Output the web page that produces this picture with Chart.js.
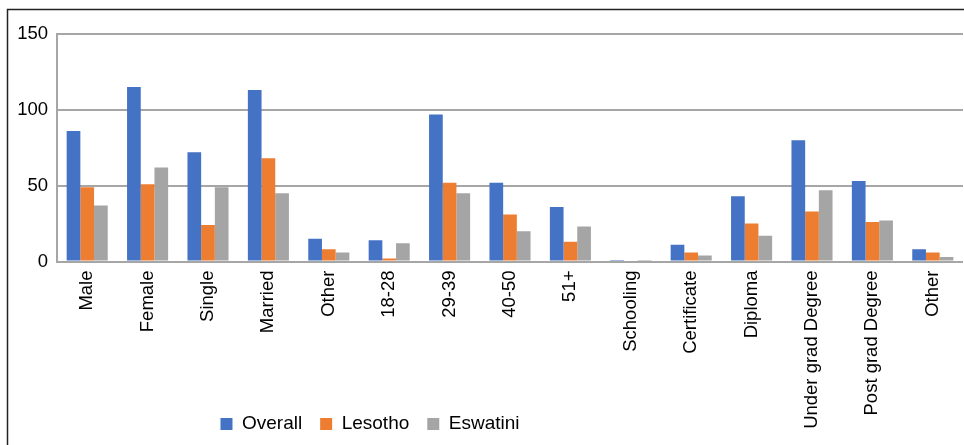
<!DOCTYPE html>
<html>
<head>
<meta charset="utf-8">
<script src="https://cdn.jsdelivr.net/npm/chart.js@4.4.1/dist/chart.umd.min.js"></script>
<style>
  html, body { margin: 0; padding: 0; background: #ffffff; }
  #wrap { position: relative; width: 964px; height: 445px; }
</style>
</head>
<body>
<div id="wrap"><canvas id="c" width="964" height="445"></canvas></div>
<script>
const categories = ["Male", "Female", "Single", "Married", "Other", "18-28", "29-39", "40-50", "51+", "Schooling", "Certificate", "Diploma", "Under grad Degree", "Post grad Degree", "Other"];
const overall  = [86, 115, 72, 113, 15, 14, 97, 52, 36, 1, 11, 43, 80, 53, 8];
const lesotho  = [49, 51, 24, 68, 8, 2, 52, 31, 13, 0, 6, 25, 33, 26, 6];
const eswatini = [37, 62, 49, 45, 6, 12, 45, 20, 23, 1, 4, 17, 47, 27, 3];
const seriesNames = ["Overall", "Lesotho", "Eswatini"];
const yTicks = [0, 50, 100, 150];

const FONT = "'Liberation Sans', Arial, sans-serif";

const framePlugin = {
  id: 'frame',
  afterLayout(chart) {
    // let rotated category labels run past the axis box (over the legend row), as in the reference
    if (chart.scales.x) chart.scales.x.bottom = chart.height;
  },
  beforeDraw(chart) {
    const ctx = chart.ctx;
    ctx.save();
    ctx.fillStyle = '#ffffff';
    ctx.fillRect(0, 0, chart.width, chart.height);
    ctx.strokeStyle = '#222222';
    ctx.lineWidth = 1.5;
    ctx.beginPath();
    ctx.moveTo(7.5, chart.height + 5);
    ctx.lineTo(7.5, 9.5);
    ctx.lineTo(chart.width + 5, 9.5);
    ctx.stroke();
    ctx.restore();
    if (chart.legend) {
      chart.legend.left = 0;
      chart.legend.right = 740;
    }
  }
};

new Chart(document.getElementById('c'), {
  type: 'bar',
  data: {
    labels: categories,
    datasets: [
      { label: seriesNames[0], data: overall,  backgroundColor: '#4472C4', categoryPercentage: 0.68, barPercentage: 1.0 },
      { label: seriesNames[1], data: lesotho,  backgroundColor: '#ED7D31', categoryPercentage: 0.68, barPercentage: 1.0 },
      { label: seriesNames[2], data: eswatini, backgroundColor: '#A5A5A5', categoryPercentage: 0.68, barPercentage: 1.0 }
    ]
  },
  options: {
    responsive: false,
    animation: false,
    devicePixelRatio: 1,
    layout: { padding: { left: 0, right: 1, top: 34, bottom: 1.5 } },
    plugins: {
      tooltip: { enabled: false },
      legend: {
        position: 'bottom',
        align: 'center',
        labels: {
          color: '#000000',
          font: { family: FONT, size: 19 },
          boxWidth: 12,
          boxHeight: 12,
          padding: 18
        }
      }
    },
    scales: {
      x: {
        grid: { display: false },
        border: { display: false },
        ticks: {
          color: '#000000',
          font: { family: FONT, size: 18.5 },
          minRotation: 90,
          maxRotation: 90,
          autoSkip: false,
          padding: 1
        },
        afterFit(scale) { scale.height = 135; }
      },
      y: {
        min: 0,
        max: 150,
        afterBuildTicks(scale) { scale.ticks = yTicks.map(v => ({ value: v })); },
        grid: { color: '#a6a6a6', lineWidth: 2, drawTicks: false },
        border: { display: true, color: '#a6a6a6', width: 2 },
        ticks: {
          color: '#000000',
          font: { family: FONT, size: 18.5 },
          padding: 9
        },
        afterFit(scale) { scale.width = 57; }
      }
    }
  },
  plugins: [framePlugin]
});
</script>
</body>
</html>
